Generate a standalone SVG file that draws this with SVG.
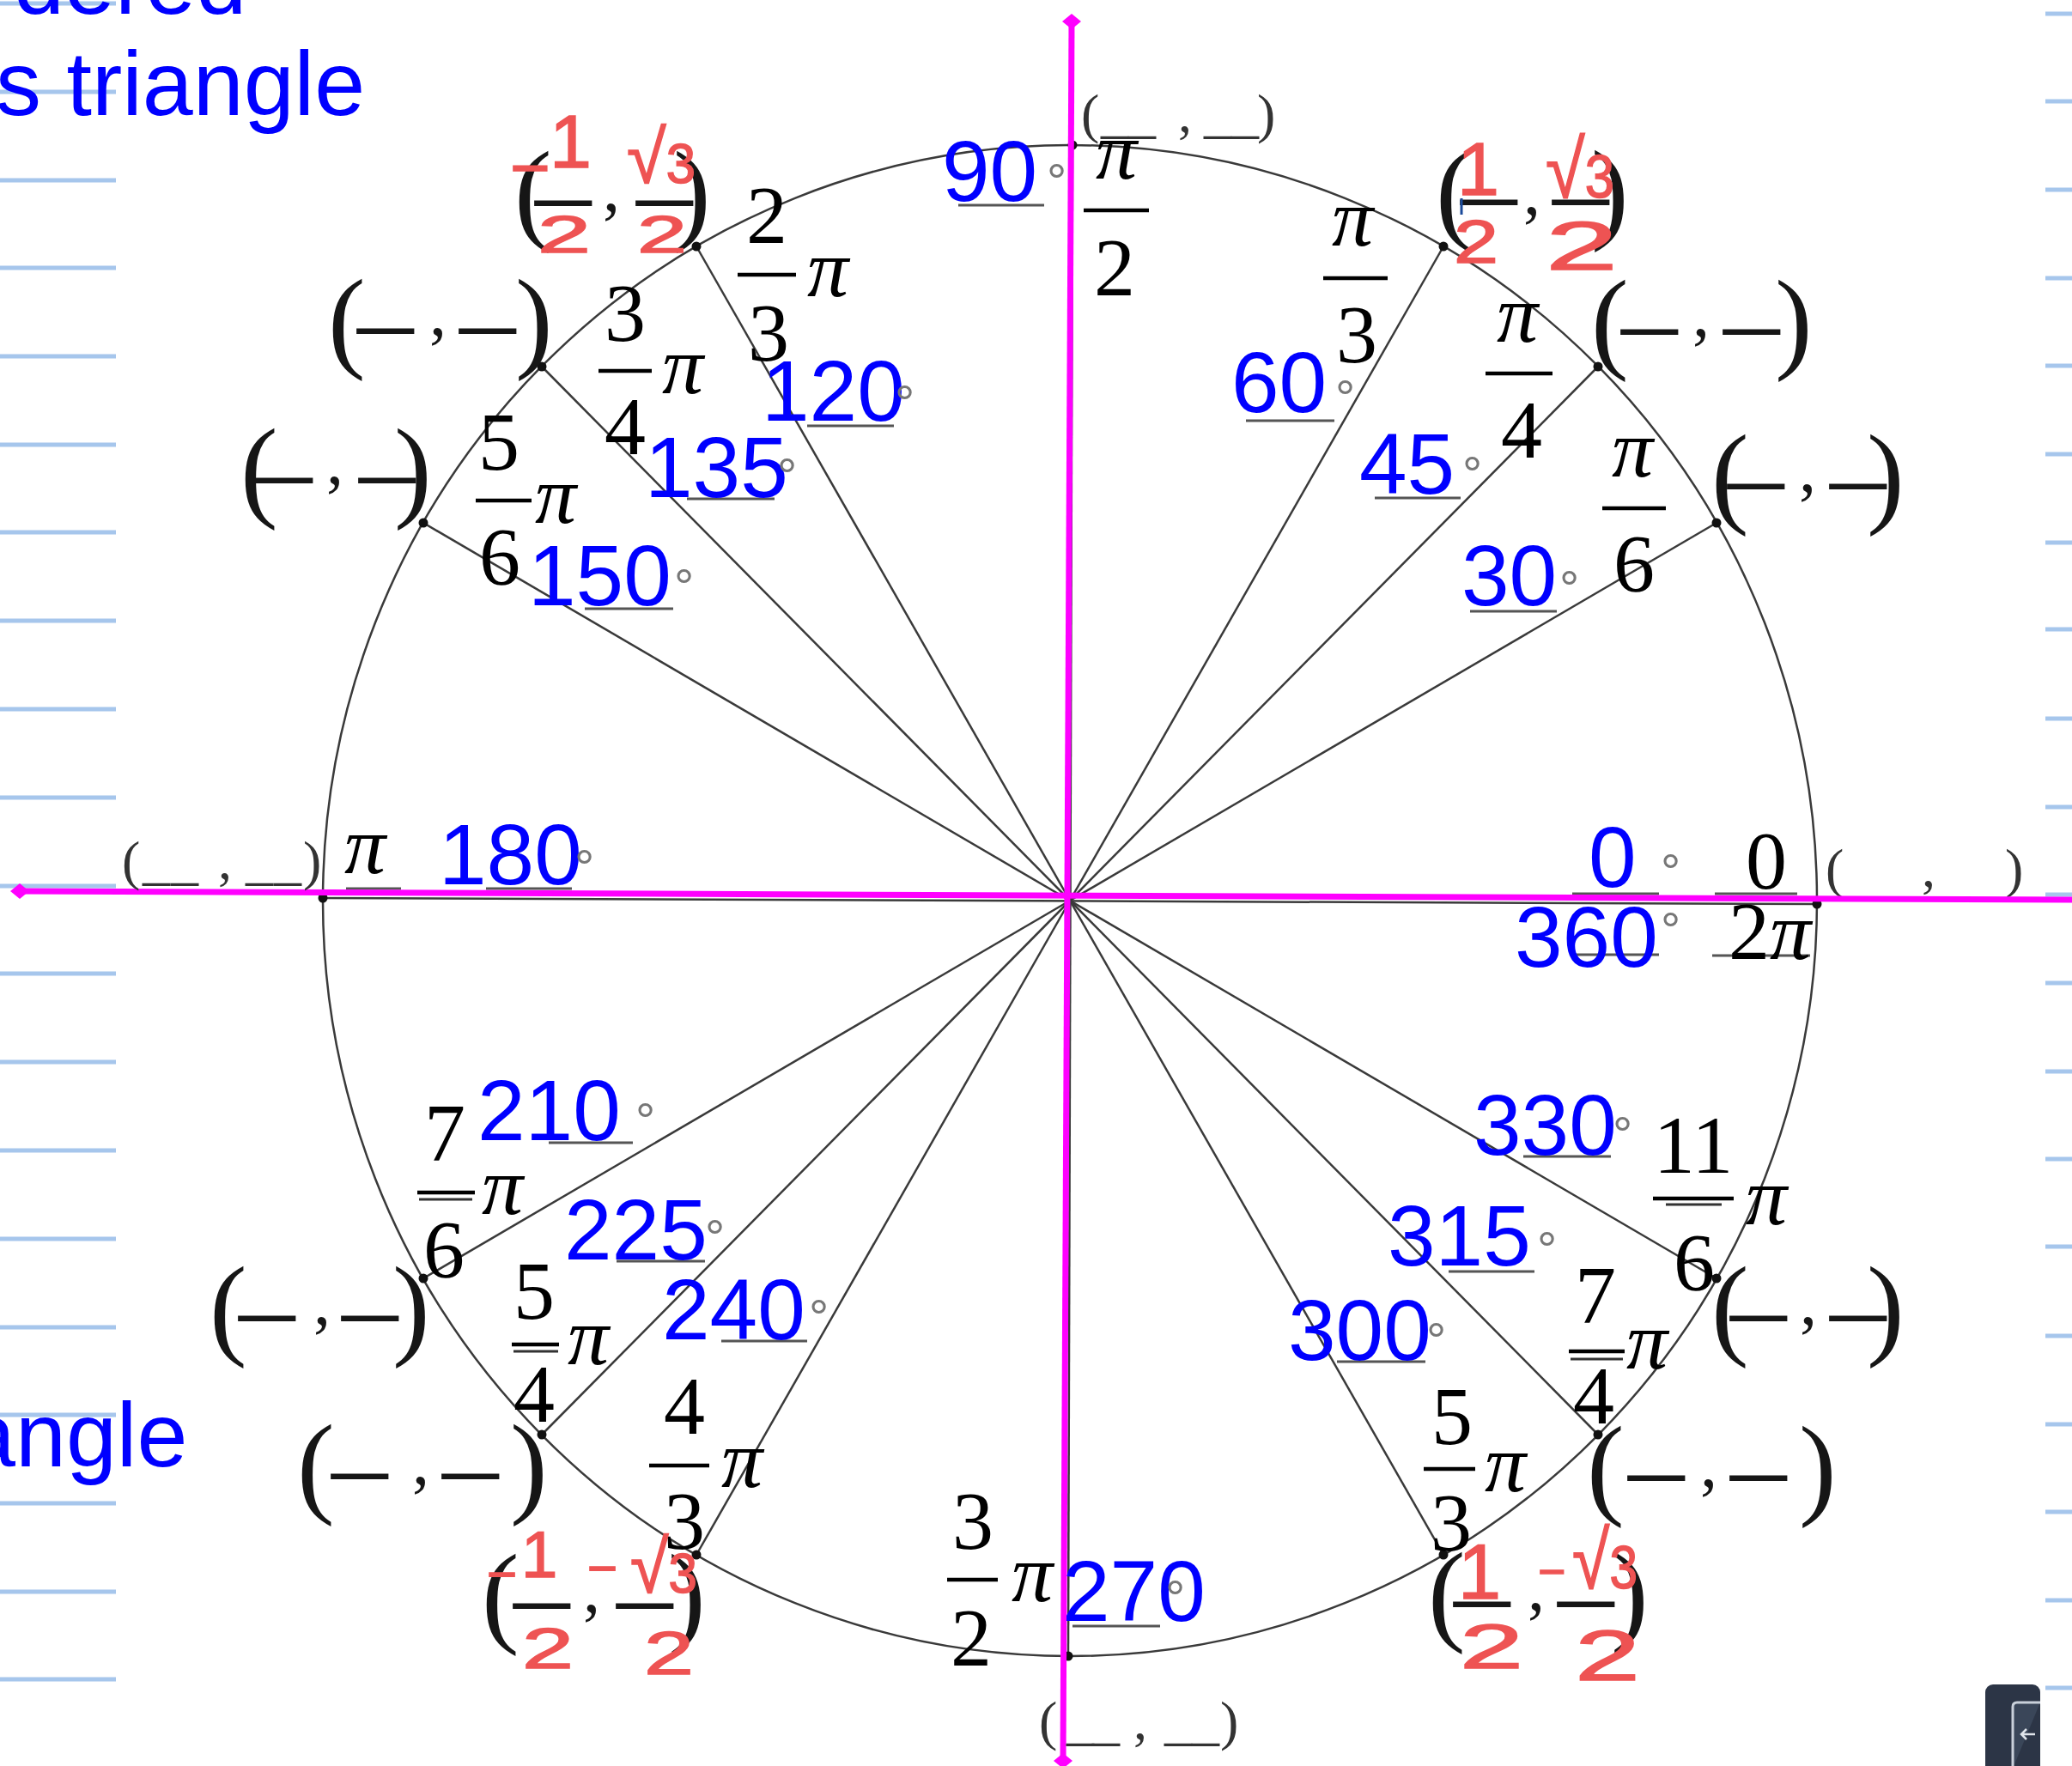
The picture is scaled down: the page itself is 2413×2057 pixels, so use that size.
<svg xmlns="http://www.w3.org/2000/svg" width="2413" height="2057" viewBox="0 0 2413 2057">
<style>
.nb{stroke:#a6c6ec;stroke-width:5}
.hd{font-family:"Liberation Sans",Arial,sans-serif;fill:#0000ff;font-size:106px}
.bn{font-family:"Liberation Sans",Arial,sans-serif;fill:#0000ff;font-size:100px}
.fr{font-family:"Liberation Serif","Times New Roman",serif;fill:#000;font-size:96px}
.pi{font-style:italic}
.bl{font-family:"Liberation Serif","Times New Roman",serif;fill:#161616;font-size:131px}
.cm{font-size:80px}
.sb{font-family:"Liberation Serif","Times New Roman",serif;fill:#333;font-size:64px}
.ul{stroke:#555;stroke-width:3}
.bar{stroke:#000;stroke-width:4.5}
.bar2{stroke:#333;stroke-width:3}
.deg{font-family:"Liberation Sans",Arial,sans-serif;fill:#777;font-size:58px}
.red{font-family:"Liberation Sans",Arial,sans-serif;fill:#ee5353;stroke:#ee5353;stroke-width:1.5}
.rt{font-size:1.35em}
.sp{stroke:#3a3a3a;stroke-width:2.5;fill:none}
.mg{stroke:#ff00ff;stroke-width:7}
.dot{fill:#111}
</style>
<rect width="2413" height="2057" fill="#ffffff"/>

<g id="notebook-lines">
<line class="nb" x1="0" y1="4" x2="135" y2="4"/><line class="nb" x1="0" y1="107" x2="135" y2="107"/><line class="nb" x1="0" y1="210" x2="135" y2="210"/><line class="nb" x1="0" y1="312" x2="135" y2="312"/><line class="nb" x1="0" y1="415" x2="135" y2="415"/><line class="nb" x1="0" y1="518" x2="135" y2="518"/><line class="nb" x1="0" y1="620" x2="135" y2="620"/><line class="nb" x1="0" y1="723" x2="135" y2="723"/><line class="nb" x1="0" y1="826" x2="135" y2="826"/><line class="nb" x1="0" y1="929" x2="135" y2="929"/><line class="nb" x1="0" y1="1032" x2="135" y2="1032"/><line class="nb" x1="0" y1="1134" x2="135" y2="1134"/><line class="nb" x1="0" y1="1237" x2="135" y2="1237"/><line class="nb" x1="0" y1="1340" x2="135" y2="1340"/><line class="nb" x1="0" y1="1443" x2="135" y2="1443"/><line class="nb" x1="0" y1="1546" x2="135" y2="1546"/><line class="nb" x1="0" y1="1648" x2="135" y2="1648"/><line class="nb" x1="0" y1="1751" x2="135" y2="1751"/><line class="nb" x1="0" y1="1854" x2="135" y2="1854"/><line class="nb" x1="0" y1="1956" x2="135" y2="1956"/>
<line class="nb" x1="2382" y1="16" x2="2413" y2="16"/><line class="nb" x1="2382" y1="118" x2="2413" y2="118"/><line class="nb" x1="2382" y1="221" x2="2413" y2="221"/><line class="nb" x1="2382" y1="324" x2="2413" y2="324"/><line class="nb" x1="2382" y1="426" x2="2413" y2="426"/><line class="nb" x1="2382" y1="529" x2="2413" y2="529"/><line class="nb" x1="2382" y1="632" x2="2413" y2="632"/><line class="nb" x1="2382" y1="733" x2="2413" y2="733"/><line class="nb" x1="2382" y1="837" x2="2413" y2="837"/><line class="nb" x1="2382" y1="940" x2="2413" y2="940"/><line class="nb" x1="2382" y1="1042" x2="2413" y2="1042"/><line class="nb" x1="2382" y1="1145" x2="2413" y2="1145"/><line class="nb" x1="2382" y1="1248" x2="2413" y2="1248"/><line class="nb" x1="2382" y1="1350" x2="2413" y2="1350"/><line class="nb" x1="2382" y1="1452" x2="2413" y2="1452"/><line class="nb" x1="2382" y1="1556" x2="2413" y2="1556"/><line class="nb" x1="2382" y1="1659" x2="2413" y2="1659"/><line class="nb" x1="2382" y1="1761" x2="2413" y2="1761"/><line class="nb" x1="2382" y1="1864" x2="2413" y2="1864"/><line class="nb" x1="2382" y1="1966" x2="2413" y2="1966"/>
</g>

<g id="heading-text">
<text class="hd" x="16" y="16">dered</text>
<text class="hd" x="-5" y="134">s triangle</text>
<text class="hd" x="-41" y="1708">angle</text>
</g>

<g id="connectors">
<ellipse class="sp" cx="1246" cy="1049" rx="870" ry="880"/>
<line class="sp" x1="376" y1="1046" x2="2116" y2="1053"/>
<line class="sp" x1="1249" y1="169" x2="1244" y2="1929"/>
<line class="sp" x1="1246" y1="1049" x2="1999" y2="609"/>
<line class="sp" x1="1246" y1="1049" x2="1861" y2="427"/>
<line class="sp" x1="1246" y1="1049" x2="1681" y2="287"/>
<line class="sp" x1="1246" y1="1049" x2="811" y2="287"/>
<line class="sp" x1="1246" y1="1049" x2="631" y2="427"/>
<line class="sp" x1="1246" y1="1049" x2="493" y2="609"/>
<line class="sp" x1="1246" y1="1049" x2="493" y2="1489"/>
<line class="sp" x1="1246" y1="1049" x2="631" y2="1671"/>
<line class="sp" x1="1246" y1="1049" x2="811" y2="1811"/>
<line class="sp" x1="1246" y1="1049" x2="1681" y2="1811"/>
<line class="sp" x1="1246" y1="1049" x2="1861" y2="1671"/>
<line class="sp" x1="1246" y1="1049" x2="1999" y2="1489"/>
<circle class="dot" cx="2116" cy="1053" r="5.5"/><circle class="dot" cx="1999" cy="609" r="5.5"/><circle class="dot" cx="1861" cy="427" r="5.5"/><circle class="dot" cx="1681" cy="287" r="5.5"/><circle class="dot" cx="1249" cy="169" r="5.5"/><circle class="dot" cx="811" cy="287" r="5.5"/><circle class="dot" cx="631" cy="427" r="5.5"/><circle class="dot" cx="493" cy="609" r="5.5"/><circle class="dot" cx="376" cy="1046" r="5.5"/><circle class="dot" cx="493" cy="1489" r="5.5"/><circle class="dot" cx="631" cy="1671" r="5.5"/><circle class="dot" cx="811" cy="1811" r="5.5"/><circle class="dot" cx="1244" cy="1929" r="5.5"/><circle class="dot" cx="1681" cy="1811" r="5.5"/><circle class="dot" cx="1861" cy="1671" r="5.5"/><circle class="dot" cx="1999" cy="1489" r="5.5"/>
</g>

<g id="underlines">
<line class="ul" x1="1116" y1="239" x2="1216" y2="239"/>
<line class="ul" x1="940" y1="496" x2="1041" y2="496"/>
<line class="ul" x1="800" y1="581" x2="902" y2="581"/>
<line class="ul" x1="681" y1="709" x2="784" y2="709"/>
<line class="ul" x1="1451" y1="490" x2="1554" y2="490"/>
<line class="ul" x1="1601" y1="580" x2="1701" y2="580"/>
<line class="ul" x1="1712" y1="712" x2="1813" y2="712"/>
<line class="ul" x1="566" y1="1035" x2="666" y2="1035"/>
<line class="ul" x1="403" y1="1035" x2="467" y2="1035"/>
<line class="ul" x1="1831" y1="1041" x2="1932" y2="1041"/>
<line class="ul" x1="1997" y1="1041" x2="2093" y2="1041"/>
<line class="ul" x1="1831" y1="1112" x2="1932" y2="1112"/>
<line class="ul" x1="1994" y1="1113" x2="2108" y2="1113"/>
<line class="ul" x1="639" y1="1331" x2="737" y2="1331"/>
<line class="ul" x1="718" y1="1469" x2="821" y2="1469"/>
<line class="ul" x1="840" y1="1562" x2="940" y2="1562"/>
<line class="ul" x1="1249" y1="1894" x2="1351" y2="1894"/>
<line class="ul" x1="1557" y1="1586" x2="1660" y2="1586"/>
<line class="ul" x1="1687" y1="1481" x2="1787" y2="1481"/>
<line class="ul" x1="1774" y1="1347" x2="1876" y2="1347"/>
</g>

<g id="angle-0">
<text class="bn" x="1850" y="1033">0</text>
<text class="deg" x="1934" y="1035">°</text>
<text class="bn" x="1764" y="1126">360</text>
<text class="deg" x="1934" y="1103">°</text>
<text class="fr" x="2057" y="1035" text-anchor="middle">0</text>
<text class="fr" x="2013" y="1117">2<tspan class="pi">π</tspan></text>
<text class="sb" font-size="60" x="2126 2148 2180 2238 2262 2294 2335" y="1033 1041 1041 1033 1041 1041 1033">(__,__)</text>
</g>

<g id="axes">
<line class="mg" x1="23" y1="1038" x2="2413" y2="1048"/>
<line class="mg" x1="1248" y1="25" x2="1238" y2="2051"/>
<polygon points="12,1038 23,1029 34,1038 23,1047" fill="#ff00ff"/>
<polygon points="1237,25 1248,16 1259,25 1248,34" fill="#ff00ff"/>
<polygon points="1227,2051 1238,2042 1249,2051 1238,2060" fill="#ff00ff"/>
</g>

<g id="angle-30">
<text class="bn" x="1702" y="705" font-size="99">30</text>
<text class="deg" x="1816" y="705">°</text>
<text class="fr pi" x="1901" y="555" text-anchor="middle">π</text>
<line class="bar" x1="1866" y1="592" x2="1940" y2="592"/>
<text class="fr" x="1903" y="689" text-anchor="middle">6</text>
<text class="bl" x="1993 2012" y="597">(–<tspan class="cm" x="2095" y="572">,</tspan><tspan x="2131 2174" y="597">–)</tspan></text>
</g>

<g id="angle-45">
<text class="bn" x="1583" y="575">45</text>
<text class="deg" x="1703" y="572">°</text>
<text class="fr pi" x="1767" y="398" text-anchor="middle">π</text>
<line class="bar" x1="1730" y1="435" x2="1808" y2="435"/>
<text class="fr" x="1772" y="533" text-anchor="middle">4</text>
<text class="bl" x="1853 1888" y="417">(–<tspan class="cm" x="1971" y="391">,</tspan><tspan x="2007 2067" y="417">–)</tspan></text>
</g>

<g id="angle-60">
<text class="bn" x="1434" y="480" font-size="99">60</text>
<text class="deg" x="1555" y="483">°</text>
<text class="fr pi" x="1575" y="286" text-anchor="middle">π</text>
<line class="bar" x1="1541" y1="324" x2="1616" y2="324"/>
<text class="fr" x="1580" y="422" text-anchor="middle">3</text>
<text class="bl" font-size="123" x="1672 1701" y="266">(–<tspan class="cm" x="1774" y="249">,</tspan><tspan x="1808 1853" y="266">–)</tspan></text>
<text class="red" font-size="88" x="1697" y="227">1</text>
<text class="red" font-size="70" x="1693" y="306" textLength="52" lengthAdjust="spacingAndGlyphs">2</text>
<text class="red" font-size="70" x="1800" y="230" textLength="80" lengthAdjust="spacingAndGlyphs"><tspan class="rt">√</tspan>3</text>
<text class="red" font-size="80" x="1800" y="314" textLength="84" lengthAdjust="spacingAndGlyphs">2</text>
<line x1="1702" y1="231" x2="1702" y2="250" stroke="#1a4a9a" stroke-width="3"/>
</g>

<g id="angle-90">
<text class="bn" x="1097" y="234" font-size="96">90</text>
<text class="deg" x="1219" y="231">°</text>
<text class="fr pi" x="1300" y="208" text-anchor="middle">π</text>
<line class="bar" x1="1262" y1="245" x2="1338" y2="245"/>
<text class="fr" x="1298" y="344" text-anchor="middle">2</text>
<text class="sb" x="1259 1282 1314 1372 1402 1434 1464" y="154">(__,__)</text>
</g>

<g id="angle-120">
<text class="bn" x="887" y="490" font-size="102">120</text>
<text class="deg" x="1042" y="489">°</text>
<text class="fr" x="893" y="283" text-anchor="middle">2</text>
<line class="bar" x1="859" y1="320" x2="927" y2="320"/>
<text class="fr" x="895" y="420" text-anchor="middle">3</text>
<text class="fr pi" x="940" y="345">π</text>
<text class="bl" font-size="123" x="599 623" y="267">(–<tspan class="cm" x="702" y="245">,</tspan><tspan x="741 784" y="267">–)</tspan></text>
<text class="red" font-size="80" x="594" y="223">−</text>
<text class="red" font-size="88" x="640" y="195">1</text>
<text class="red" font-size="62" x="626" y="294" textLength="62" lengthAdjust="spacingAndGlyphs">2</text>
<text class="red" font-size="64" x="730" y="213" textLength="80" lengthAdjust="spacingAndGlyphs"><tspan class="rt">√</tspan>3</text>
<text class="red" font-size="62" x="742" y="294" textLength="58" lengthAdjust="spacingAndGlyphs">2</text>
</g>

<g id="angle-135">
<text class="bn" x="751" y="579" font-size="98">135</text>
<text class="deg" x="905" y="574">°</text>
<text class="fr" x="728" y="397" text-anchor="middle">3</text>
<line class="bar" x1="697" y1="432" x2="759" y2="432"/>
<text class="fr" x="728" y="529" text-anchor="middle">4</text>
<text class="fr pi" x="771" y="458">π</text>
<text class="bl" x="382 416" y="416">(–<tspan class="cm" x="500" y="390">,</tspan><tspan x="535 600" y="416">–)</tspan></text>
</g>

<g id="angle-150">
<text class="bn" x="615" y="705">150</text>
<text class="deg" x="785" y="703">°</text>
<text class="fr" x="581" y="547" text-anchor="middle">5</text>
<line class="bar" x1="554" y1="583" x2="619" y2="583"/>
<text class="fr" x="582" y="681" text-anchor="middle">6</text>
<text class="fr pi" x="623" y="609">π</text>
<text class="bl" x="280 298" y="590">(–<tspan class="cm" x="380" y="563">,</tspan><tspan x="418 459" y="590">–)</tspan></text>
</g>

<g id="angle-180">
<text class="bn" x="511" y="1030">180</text>
<text class="deg" x="669" y="1030">°</text>
<text class="fr pi" x="401" y="1017">π</text>
<text class="sb" x="142 166 199 254 286 319 353" y="1024">(__,__)</text>
</g>

<g id="angle-210">
<text class="bn" x="556" y="1328">210</text>
<text class="deg" x="740" y="1325">°</text>
<text class="fr" x="518" y="1352" text-anchor="middle">7</text>
<line class="bar" x1="486" y1="1389" x2="553" y2="1389"/>
<line class="bar2" x1="488" y1="1397" x2="550" y2="1397"/>
<text class="fr" x="517" y="1488" text-anchor="middle">6</text>
<text class="fr pi" x="561" y="1414">π</text>
<text class="bl" x="244 278" y="1566">(–<tspan class="cm" x="365" y="1542">,</tspan><tspan x="398 457" y="1566">–)</tspan></text>
</g>

<g id="angle-225">
<text class="bn" x="657" y="1467">225</text>
<text class="deg" x="821" y="1461">°</text>
<text class="fr" font-size="85" x="622" y="1536" text-anchor="middle">5</text>
<line class="bar" x1="596" y1="1566" x2="651" y2="1566"/>
<line class="bar2" x1="598" y1="1574" x2="650" y2="1574"/>
<text class="fr" font-size="85" x="622" y="1656" text-anchor="middle">4</text>
<text class="fr pi" font-size="85" x="661" y="1589">π</text>
<text class="bl" x="346 386" y="1750">(–<tspan class="cm" x="480" y="1728">,</tspan><tspan x="515 594" y="1750">–)</tspan></text>
</g>

<g id="angle-240">
<text class="bn" x="771" y="1560">240</text>
<text class="deg" x="942" y="1554">°</text>
<text class="fr" font-size="92" x="797" y="1670" text-anchor="middle">4</text>
<line class="bar" x1="756" y1="1707" x2="826" y2="1707"/>
<text class="fr" font-size="92" x="797" y="1804" text-anchor="middle">3</text>
<text class="fr pi" font-size="92" x="840" y="1732">π</text>
<text class="bl" font-size="128" x="561 598" y="1901">(–<tspan class="cm" x="679" y="1877">,</tspan><tspan x="718 778" y="1901">–)</tspan></text>
<text class="red" font-size="60" x="567" y="1854">−</text>
<text class="red" font-size="76" x="607" y="1837">1</text>
<text class="red" font-size="66" x="608" y="1943" textLength="60" lengthAdjust="spacingAndGlyphs">2</text>
<text class="red" font-size="60" x="684" y="1847">−</text>
<text class="red" font-size="64" x="734" y="1855" textLength="78" lengthAdjust="spacingAndGlyphs"><tspan class="rt">√</tspan>3</text>
<text class="red" font-size="70" x="750" y="1950" textLength="58" lengthAdjust="spacingAndGlyphs">2</text>
</g>

<g id="angle-270">
<text class="bn" x="1237" y="1888" font-size="76">270</text>
<text class="deg" font-size="46" x="1357" y="1881">°</text>
<text class="fr" font-size="94" x="1133" y="1804" text-anchor="middle">3</text>
<line class="bar" x1="1103" y1="1840" x2="1162" y2="1840"/>
<text class="fr" font-size="94" x="1131" y="1940" text-anchor="middle">2</text>
<text class="fr pi" font-size="94" x="1178" y="1865">π</text>
<text class="sb" x="1210 1242 1272 1320 1356 1388 1421" y="2026">(__,__)</text>
</g>

<g id="angle-300">
<text class="bn" x="1500" y="1584" font-size="97">300</text>
<text class="deg" x="1661" y="1581">°</text>
<text class="fr" x="1691" y="1682" text-anchor="middle">5</text>
<line class="bar" x1="1658" y1="1711" x2="1718" y2="1711"/>
<text class="fr" x="1690" y="1806" text-anchor="middle">3</text>
<text class="fr pi" x="1729" y="1737">π</text>
<text class="bl" font-size="128" x="1663 1693" y="1899">(–<tspan class="cm" x="1779" y="1875">,</tspan><tspan x="1814 1876" y="1899">–)</tspan></text>
<text class="red" font-size="90" x="1698" y="1862">1</text>
<text class="red" font-size="72" x="1700" y="1943" textLength="74" lengthAdjust="spacingAndGlyphs">2</text>
<text class="red" font-size="55" x="1791" y="1849">−</text>
<text class="red" font-size="70" x="1831" y="1850" textLength="76" lengthAdjust="spacingAndGlyphs"><tspan class="rt">√</tspan>3</text>
<text class="red" font-size="84" x="1834" y="1957" textLength="76" lengthAdjust="spacingAndGlyphs">2</text>
</g>

<g id="angle-315">
<text class="bn" x="1616" y="1474" font-size="97">315</text>
<text class="deg" x="1790" y="1475">°</text>
<text class="fr" font-size="82" x="1858" y="1541" text-anchor="middle">7</text>
<line class="bar" x1="1827" y1="1574" x2="1892" y2="1574"/>
<line class="bar2" x1="1829" y1="1583" x2="1890" y2="1583"/>
<text class="fr" font-size="82" x="1856" y="1658" text-anchor="middle">4</text>
<text class="fr pi" font-size="82" x="1894" y="1594">π</text>
<text class="bl" x="1848 1896" y="1752">(–<tspan class="cm" x="1980" y="1731">,</tspan><tspan x="2015 2095" y="1752">–)</tspan></text>
</g>

<g id="angle-330">
<text class="bn" x="1716" y="1345">330</text>
<text class="deg" x="1878" y="1341">°</text>
<text class="fr" x="1972" y="1366" text-anchor="middle">11</text>
<line class="bar" x1="1925" y1="1396" x2="2019" y2="1396"/>
<line class="bar2" x1="1940" y1="1403" x2="2005" y2="1403"/>
<text class="fr" x="1973" y="1503" text-anchor="middle">6</text>
<text class="fr pi" x="2033" y="1426">π</text>
<text class="bl" x="1993 2015" y="1566">(–<tspan class="cm" x="2096" y="1542">,</tspan><tspan x="2131 2174" y="1566">–)</tspan></text>
</g>

<g id="button">
<rect x="2312" y="1962" width="64" height="110" rx="9" fill="#2c3546"/>
<path d="M2376 1983 H2349 Q2344 1983 2344 1988 V2060" fill="#3a4659" stroke="#c9d0da" stroke-width="3"/>
<path d="M2370 2020 H2354 M2360 2014 L2354 2020 L2360 2026" stroke="#dfe4ea" stroke-width="2.5" fill="none"/>
</g>
</svg>
